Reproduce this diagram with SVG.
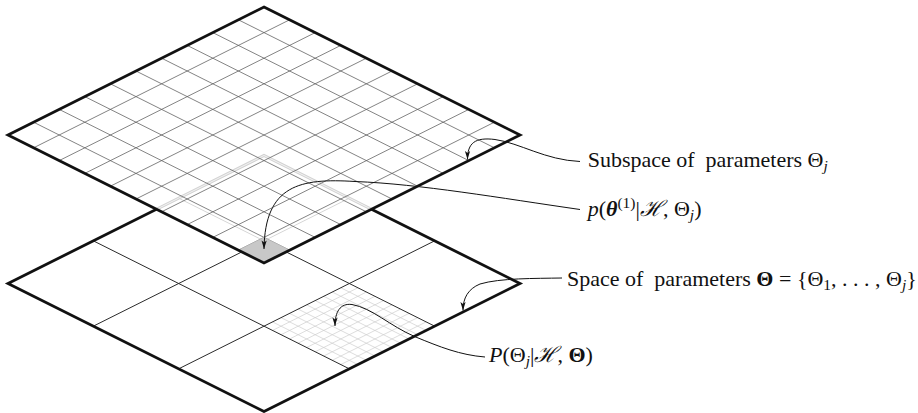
<svg xmlns="http://www.w3.org/2000/svg" width="918" height="413" viewBox="0 0 918 413">
<style>
.border{fill:none;stroke:#111;stroke-width:2.8;stroke-linejoin:miter}
.bgrid{stroke:#2a2a2a;stroke-width:1;fill:none}
.tgrid{stroke:#5a5a5a;stroke-width:0.75;fill:none}
.fgrid{stroke:#cacaca;stroke-width:0.65;fill:none}
.hid{stroke:#d2d2d2;stroke-width:3;fill:none;stroke-linejoin:miter}
.hidc{stroke:#f4f4f4;stroke-width:1;fill:none}
.hidt{stroke:#d6d6d6;stroke-width:1;fill:none}
.conn{fill:none;stroke:#111;stroke-width:1}
text{font-family:"Liberation Serif","DejaVu Serif",serif;font-size:22px;fill:#111;white-space:pre}
.it{font-style:italic}
.sub{font-size:15.5px}
</style>
<defs>
<marker id="ah" viewBox="-9 -3 10 6" refX="0" refY="0" markerWidth="10" markerHeight="6" orient="auto" markerUnits="userSpaceOnUse">
<path d="M0,0 L-8.5,-2.6 L-6.5,0 L-8.5,2.6 Z" fill="#111"/>
</marker>
</defs>

<g id="bottom-plane">
<polygon points="264,155.5 520,283.5 264,411.5 8,283.5" fill="#fff"/>
<g class="fgrid">
<path d="M357.87,287.77L272.53,330.43M366.4,292.03L281.07,334.7M374.93,296.3L289.6,338.97M383.47,300.57L298.13,343.23M392,304.83L306.67,347.5M400.53,309.1L315.2,351.77M409.07,313.37L323.73,356.03M417.6,317.63L332.27,360.3M426.13,321.9L340.8,364.57"/>
<path d="M340.8,287.77L426.13,330.43M332.27,292.03L417.6,334.7M323.73,296.3L409.07,338.97M315.2,300.57L400.53,343.23M306.67,304.83L392,347.5M298.13,309.1L383.47,351.77M289.6,313.37L375,356.03M281.07,317.63L366.4,360.3M272.53,321.9L357.87,364.57"/>
</g>
<path class="bgrid" d="M349.33,198.17L93.33,326.17M434.67,240.83L178.67,368.83M178.67,198.17L434.67,326.17M93.33,240.83L349.33,368.83"/>
<polygon class="border" points="264,155.5 520,283.5 264,411.5 8,283.5"/>
</g>

<g id="top-plane">
<polygon points="264,7 520,135 264,263 8,135" fill="#fff"/>
<polyline class="hid" points="156.5,209.25 264,155.5 371.5,209.25"/>
<polyline class="hidc" points="156.5,209.25 264,155.5 371.5,209.25"/>
<path class="hidt" d="M178.67,198.17L286.17,251.92M349.33,198.17L241.83,251.92"/>
<path class="tgrid" d="M289.6,19.8L33.6,147.8M315.2,32.6L59.2,160.6M340.8,45.4L84.8,173.4M366.4,58.2L110.4,186.2M392,71L136,199M417.6,83.8L161.6,211.8M443.2,96.6L187.2,224.6M468.8,109.4L212.8,237.4M494.4,122.2L238.4,250.2"/>
<path class="tgrid" d="M238.4,19.8L494.4,147.8M212.8,32.6L468.8,160.6M187.2,45.4L443.2,173.4M161.6,58.2L417.6,186.2M136,71L392,199M110.4,83.8L366.4,211.8M84.8,96.6L340.8,224.6M59.2,109.4L315.2,237.4M33.6,122.2L289.6,250.2"/>
<polygon id="selected-cell" points="264,263 238.4,250.2 264,237.4 289.6,250.2" fill="#c8c8c8" stroke="#c0c0c0" stroke-width="0.6"/>
<polygon class="border" points="264,7 520,135 264,263 8,135"/>
</g>

<g id="connectors">
<path class="conn" marker-end="url(#ah)" d="M580,161.5 C545,160 520,143 495,139.5 C475,137 467.5,143 467.5,159.5"/>
<path class="conn" marker-end="url(#ah)" d="M580,209.5 C500,198 420,184 355,181.5 C300,178 265,185 264,249"/>
<path class="conn" marker-end="url(#ah)" d="M562,278 C535,278.5 500,278 480,284 C468,289 463,298 463,310.5"/>
<path class="conn" marker-end="url(#ah)" d="M485,357 C460,355 440,347 415,336.7 C390,326 372,308 352,304.5 C340,303 335,312 335,326"/>
</g>

<g id="label-subspace">
<text x="587.7" y="167.3">Subspace of  parameters Θ<tspan class="it sub" dy="4">j</tspan></text>
</g>
<g id="label-p">
<text x="587.7" y="216"><tspan class="it">p</tspan>(<tspan class="it" font-weight="bold">θ</tspan><tspan class="sub" dy="-8">(1)</tspan><tspan dy="8">|</tspan><tspan class="it">ℋ</tspan>, Θ<tspan class="it sub" dy="4">j</tspan><tspan dy="-4">)</tspan></text>
</g>
<g id="label-space">
<text x="567" y="286">Space of  parameters <tspan font-weight="bold">Θ</tspan> = {Θ<tspan class="sub" dy="4">1</tspan><tspan dy="-4">, . . . , Θ</tspan><tspan class="it sub" dy="4">j</tspan><tspan dy="-4">}</tspan></text>
</g>
<g id="label-P">
<text x="489" y="362"><tspan class="it">P</tspan>(Θ<tspan class="it sub" dy="4">j</tspan><tspan dy="-4">|</tspan><tspan class="it">ℋ</tspan>, <tspan font-weight="bold">Θ</tspan>)</text>
</g>
</svg>
